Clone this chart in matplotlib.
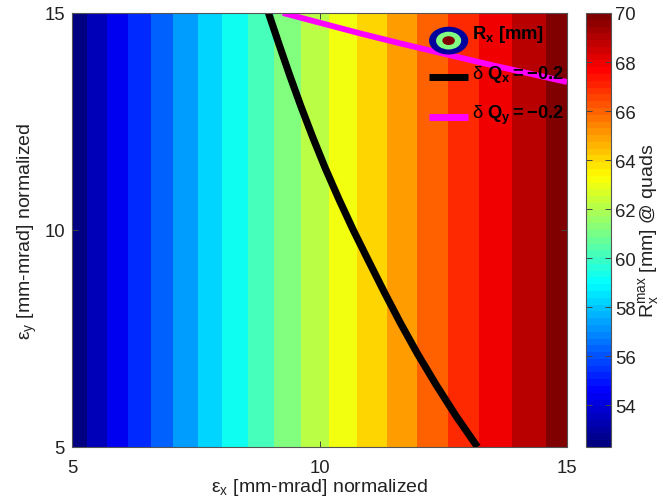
import numpy as np
import matplotlib
matplotlib.use("Agg")
import matplotlib.pyplot as plt
from matplotlib.cm import ScalarMappable
from matplotlib.colors import LinearSegmentedColormap, Normalize
from matplotlib.legend_handler import HandlerBase
from matplotlib.lines import Line2D
from matplotlib.patches import Ellipse, Patch

# Radius map: band edges along emittance x and the radius there
rx_emit_x = [5.00, 5.30, 5.71, 6.13, 6.60, 7.04, 7.55, 8.03, 8.56, 9.08, 9.63,
             10.19, 10.76, 11.36, 11.97, 12.60, 13.22, 13.89, 14.58, 15.00]
rx_values = [52.30, 53.23, 54.16, 55.09, 56.03, 56.96, 57.89, 58.82, 59.75, 60.68,
             61.62, 62.55, 63.48, 64.41, 65.34, 66.27, 67.21, 68.14, 69.07, 69.60]
rx_emit_y = [5.0, 15.0]
rx_levels = [52.30, 53.23, 54.16, 55.09, 56.03, 56.96, 57.89, 58.82, 59.75, 60.68,
             61.62, 62.55, 63.48, 64.41, 65.34, 66.27, 67.21, 68.14, 69.07, 70.00]

# Tune-shift curves
dqx_emit_x = [8.970, 9.180, 9.396, 9.622, 9.861, 10.115, 10.390, 10.681, 10.992,
              11.307, 11.634, 11.982, 12.358, 12.758, 13.192]
dqx_emit_y = [15.000, 14.286, 13.571, 12.857, 12.143, 11.429, 10.714, 10.000, 9.286,
              8.571, 7.857, 7.143, 6.429, 5.714, 5.000]
dqy_emit_x = [9.26, 10.82, 11.63, 13.44, 15.00]
dqy_emit_y = [15.00, 14.53, 14.30, 13.81, 13.41]

axis_ticks = [5, 10, 15]
cbar_ticks = [54, 56, 58, 60, 62, 64, 66, 68, 70]

plt.rcParams.update({
    "font.family": ["Liberation Sans", "DejaVu Sans"],
    "mathtext.fontset": "custom",
    "mathtext.rm": "Liberation Sans",
    "mathtext.it": "Liberation Sans",
    "mathtext.bf": "Liberation Sans:bold",
    "axes.linewidth": 0.8,
    "axes.edgecolor": "#555555",
})
W, H = 663, 502
fig = plt.figure(figsize=(W / 100, H / 100), dpi=100)
ax = fig.add_axes([72 / W, 1 - 448 / H, (567 - 72) / W, (448 - 14) / H])
cax = fig.add_axes([586 / W, 1 - 448 / H, (611 - 586) / W, (448 - 14) / H])

# MATLAB's jet differs a little from matplotlib's
jet_segments = {
    "red": [(0, 0, 0), (0.375, 0, 0), (0.625, 1, 1), (0.875, 1, 1), (1, 0.5, 0.5)],
    "green": [(0, 0, 0), (0.125, 0, 0), (0.375, 1, 1), (0.625, 1, 1), (0.875, 0, 0), (1, 0, 0)],
    "blue": [(0, 0.5, 0.5), (0.125, 1, 1), (0.375, 1, 1), (0.625, 0, 0), (1, 0, 0)],
}
jet = LinearSegmentedColormap("matlab_jet", jet_segments, N=256)
jet64 = LinearSegmentedColormap("matlab_jet64", jet_segments, N=64)

band_colors = [jet(k / (len(rx_levels) - 2)) for k in range(len(rx_levels) - 1)]
z = np.vstack([rx_values, rx_values])
ax.contourf(rx_emit_x, rx_emit_y, z, levels=rx_levels, colors=band_colors)

ax.plot(dqx_emit_x, dqx_emit_y, color="black", lw=5.2, solid_capstyle="butt",
        solid_joinstyle="round")
ax.plot(dqy_emit_x, dqy_emit_y, color="#ff00ff", lw=4.2, solid_capstyle="butt",
        solid_joinstyle="round")

ax.set_xlim(5, 15)
ax.set_ylim(5, 15)
ax.set_xticks(axis_ticks)
ax.set_yticks(axis_ticks)
ax.tick_params(direction="in", top=True, right=True, length=4, width=0.7,
               color="#444444", labelsize=13.3, labelcolor="#222222")
ax.tick_params(axis="x", pad=9)
ax.tick_params(axis="y", pad=5)
ax.set_xlabel("ε$_{\\mathregular{x}}$ [mm-mrad] normalized", fontsize=14, color="#222222",
              labelpad=0)
ax.set_ylabel("ε$_{\\mathregular{y}}$ [mm-mrad] normalized", fontsize=14, color="#222222",
              labelpad=4)


class RingHandler(HandlerBase):
    def create_artists(self, legend, orig, xd, yd, width, height, fontsize, trans):
        cx, cy = width / 2 - xd, height / 2 - yd - 6.5
        out = []
        for scale, col in [(1.0, "#00009c"), (0.64, "#80ff80"), (0.32, "#800000")]:
            out.append(Ellipse((cx, cy), width * scale, 20 * scale, facecolor=col,
                               edgecolor="none", transform=trans))
        return out


class LowLineHandler(HandlerBase):
    def create_artists(self, legend, orig, xd, yd, width, height, fontsize, trans):
        y = height / 2 - yd - 4.0
        line = Line2D([-xd, width - xd], [y, y], color=orig.get_color(),
                      lw=orig.get_linewidth(), solid_capstyle="butt", transform=trans)
        return [line]


handles = [Patch(), Line2D([], [], color="black", lw=5.0),
           Line2D([], [], color="#ff00ff", lw=5.0)]
labels = ["$\\mathbf{R_x}$ $\\mathbf{[mm]}$",
          "δ $\\mathbf{Q_x{=}{-}0.2}$",
          "δ $\\mathbf{Q_y{=}{-}0.2}$"]
ax.legend(handles, labels, handler_map={Patch: RingHandler(), Line2D: LowLineHandler()},
          frameon=False, loc="upper left",
          bbox_to_anchor=((429 - 72) / 495, 1 - (24 - 14) / 434),
          borderaxespad=0, borderpad=0, fontsize=13.2, handlelength=2.14,
          handletextpad=0.2, labelspacing=1.02, labelcolor="black")

sm = ScalarMappable(norm=Normalize(52.3, 70), cmap=jet64)
cb = fig.colorbar(sm, cax=cax)
cb.set_ticks(cbar_ticks)
cax.tick_params(direction="in", left=True, right=True, length=4, width=0.7,
                color="#444444", labelsize=13.3, labelcolor="#222222", pad=3)
cb.outline.set_edgecolor("#555555")
cb.outline.set_linewidth(0.8)
cb.set_label("R$_{\\mathregular{x}}^{\\mathregular{max}}$ [mm] @ quads", fontsize=14,
             color="#222222", labelpad=0)

fig.savefig("out.png", dpi=100)
